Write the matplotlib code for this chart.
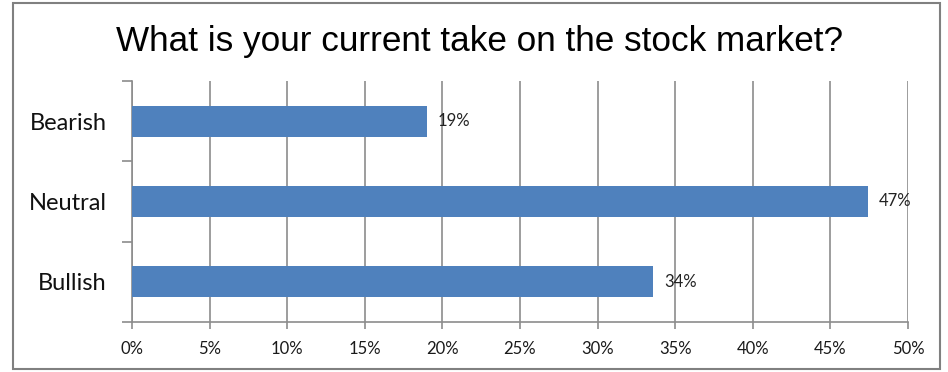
import matplotlib.pyplot as plt
from matplotlib.patches import Rectangle
from matplotlib.ticker import FixedLocator, PercentFormatter

# survey answers, top to bottom
answers = ['Bearish', 'Neutral', 'Bullish']
shares = [19.0, 47.4, 33.6]
x_ticks = [0, 5, 10, 15, 20, 25, 30, 35, 40, 45, 50]

bar_color = '#4F81BD'
grid_color = '#8c8c8c'
label_font = ['Lato', 'DejaVu Sans']

fig = plt.figure(figsize=(9.48, 3.72), dpi=100)
ax = fig.add_axes([132 / 948, 1 - 322 / 372, 776 / 948, 241 / 372])

ypos = list(range(len(answers)))
ax.barh(ypos, shares, height=0.39, color=bar_color, zorder=3)

# value labels just right of each bar
for y, v in zip(ypos, shares):
    ax.text(v + 0.7, y, '{0:.0f}%'.format(v), va='center', ha='left',
            fontsize=12, color='#222222', family=label_font, zorder=4)

ax.set_xlim(0, 50)
ax.set_ylim(len(answers) - 0.5, -0.5)
ax.set_xticks(x_ticks)
ax.xaxis.set_major_formatter(PercentFormatter(decimals=0))
ax.set_yticks(ypos)
ax.set_yticklabels(answers, fontsize=17, family=label_font, color='#111111')
ax.yaxis.set_minor_locator(FixedLocator([-0.5, 0.5, 1.5, 2.5]))

for lab in ax.get_xticklabels():
    lab.set_family(label_font)
    lab.set_fontsize(12)
    lab.set_color('#1a1a1a')

ax.tick_params(axis='y', which='major', length=0, pad=18)
ax.tick_params(axis='y', which='minor', length=7, color=grid_color, width=1.2)
ax.tick_params(axis='x', length=5, color=grid_color, width=1.2, pad=9)

ax.grid(axis='x', color=grid_color, lw=1.2, zorder=0)
for side in ['top', 'right']:
    ax.spines[side].set_visible(False)
for side in ['left', 'bottom']:
    ax.spines[side].set_color(grid_color)
    ax.spines[side].set_linewidth(1.2)

fig.text(479 / 948, 1 - 42 / 372, 'What is your current take on the stock market?',
         ha='center', va='center', fontsize=25.3,
         family=['Liberation Sans', 'DejaVu Sans'], color='black')

# outer border around the whole chart
fig.patches.append(Rectangle((13 / 948, 3 / 372), 927 / 948, 366 / 372,
                             transform=fig.transFigure, fill=False,
                             edgecolor='#808080', lw=1.5))

fig.savefig('out.png', dpi=100)
